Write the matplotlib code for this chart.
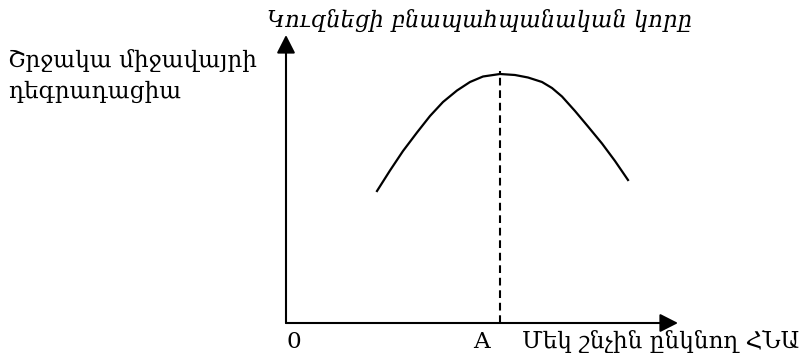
import numpy as np
import matplotlib.pyplot as plt

plt.rcParams['font.family'] = ['DejaVu Serif', 'DejaVu Sans']

# curve (origin at the axes corner)
curve_x = [91, 104, 117, 131, 144, 157, 171, 184, 197, 214,
           229, 242, 256, 266, 276, 289, 302, 316, 329, 342]
curve_y = [132, 152.5, 172, 190.5, 207, 221, 232.5, 241, 246.5, 249,
           248, 245.5, 241, 235, 226.5, 212, 196.5, 179.5, 162, 143]
peak_x = 214
peak_top = 252
x_axis_end = 392
y_axis_end = 288

x_label = 'Մեկ շնչին ընկնող ՀՆԱ'
y_label = ['Շրջակա միջավայրի', 'դեգրադացիա']
curve_title = 'Կուզնեցի բնապահպանական կորը'

fig = plt.figure(figsize=(8.02, 3.57), dpi=100)
ax = fig.add_axes([0, 0, 1, 1])
ax.set_xlim(-286, 516)
ax.set_ylim(-34, 323)
ax.axis('off')

arrow = dict(arrowstyle='-|>,head_length=0.55,head_width=0.28', lw=1.5,
             color='black', mutation_scale=20, shrinkA=0, shrinkB=0)
ax.annotate('', xy=(x_axis_end, 0), xytext=(0, 0), arrowprops=arrow)
ax.annotate('', xy=(0, y_axis_end), xytext=(0, 0), arrowprops=arrow)

ax.plot(curve_x, curve_y, color='black', lw=1.6, solid_joinstyle='round')
ax.plot([peak_x, peak_x], [0, peak_top], color='black', lw=1.5,
        linestyle=(0, (3.7, 2.3)))

fs = 16.7
ax.text(0, -25, '0', fontsize=fs, ha='left', va='baseline')
ax.text(187, -25, 'A', fontsize=fs, ha='left', va='baseline')
ax.text(236, -25, x_label, fontsize=fs, ha='left', va='baseline')
# two lines of the y label, 31 px apart
ax.text(-278, 256, y_label[0], fontsize=fs, ha='left', va='baseline')
ax.text(-278, 225, y_label[1], fontsize=fs, ha='left', va='baseline')
ax.text(-19, 296, curve_title, fontsize=16.3, ha='left', va='baseline',
        style='italic')

plt.savefig('out.png', dpi=100)
